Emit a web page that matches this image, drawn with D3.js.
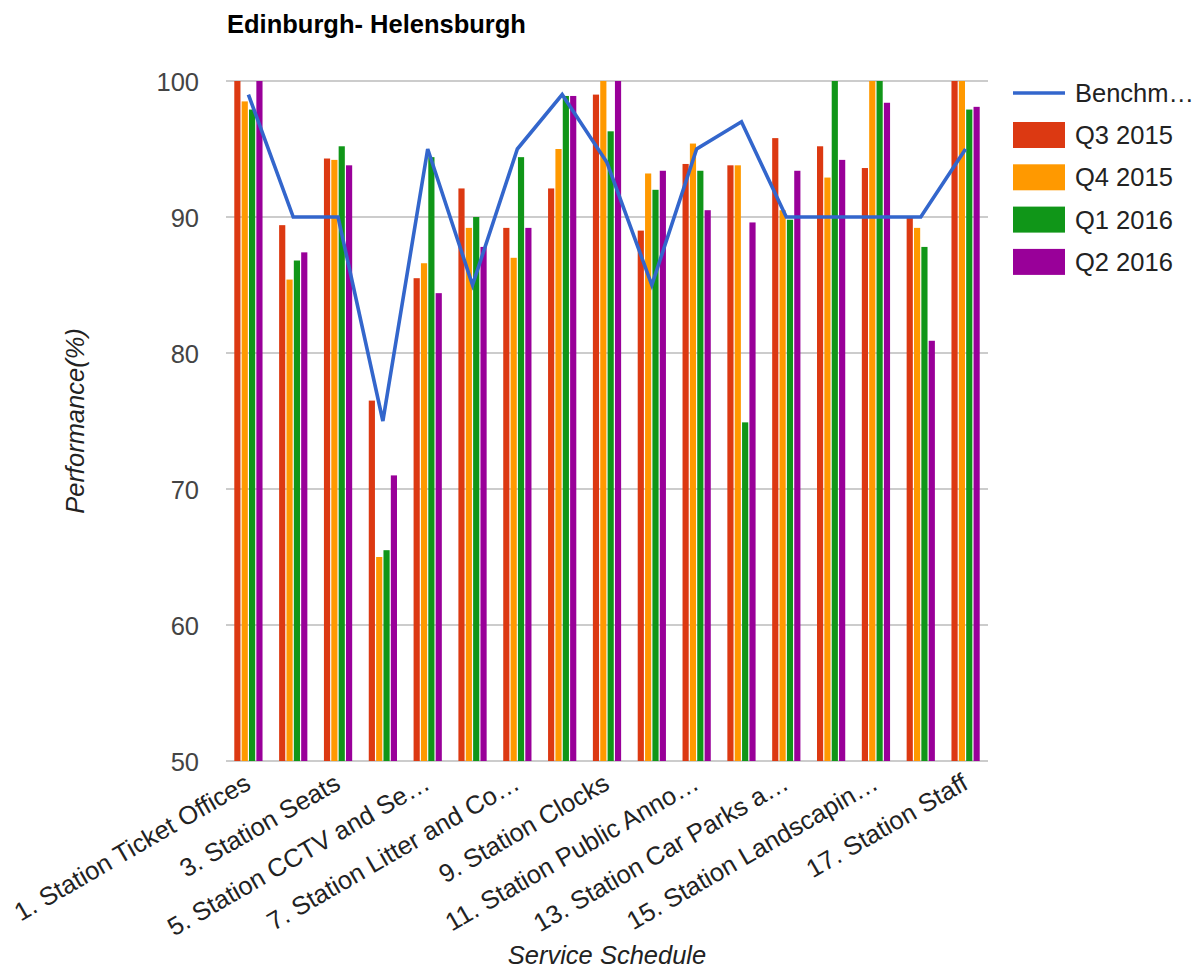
<!DOCTYPE html>
<html lang="en">
	<head>
		<meta charset="utf-8" />
		<title>Edinburgh- Helensburgh</title>
		<script type="text/javascript" src="https://cdn.jsdelivr.net/npm/d3@7"></script>
		<style type="text/css">
			body { margin: 0; background: #fff; }
			text { font-family: Arial, "Liberation Sans", sans-serif; }
		</style>
	</head>
	<body>
		<script type="text/javascript">
			//Categories (only the odd ones get a label on the axis)
			var categories = [
				"1. Station Ticket Offices", "2.", "3. Station Seats", "4.",
				"5. Station CCTV and Se…", "6.", "7. Station Litter and Co…", "8.",
				"9. Station Clocks", "10.", "11. Station Public Anno…", "12.",
				"13. Station Car Parks a…", "14.", "15. Station Landscapin…", "16.",
				"17. Station Staff"
			];
			var seriesNames = ["Q3 2015", "Q4 2015", "Q1 2016", "Q2 2016"];
			var lineName = "Benchmark";

			var benchmark = [99, 90, 90, 75, 95, 85, 95, 99, 94, 85, 95, 97, 90, 90, 90, 90, 95];
			var q3_2015 = [100, 89.4, 94.3, 76.5, 85.5, 92.1, 89.2, 92.1, 99.0, 89.0, 93.9, 93.8, 95.8, 95.2, 93.6, 90.0, 100];
			var q4_2015 = [98.5, 85.4, 94.2, 65.0, 86.6, 89.2, 87.0, 95.0, 100, 93.2, 95.4, 93.8, 90.5, 92.9, 100, 89.2, 100];
			var q1_2016 = [97.9, 86.8, 95.2, 65.5, 94.4, 90.0, 94.4, 98.9, 96.3, 92.0, 93.4, 74.9, 89.8, 100, 100, 87.8, 97.9];
			var q2_2016 = [100, 87.4, 93.8, 71.0, 84.4, 87.8, 89.2, 98.9, 100, 93.4, 90.5, 89.6, 93.4, 94.2, 98.4, 80.9, 98.1];
			var yTicks = [50, 60, 70, 80, 90, 100];

			var barSeries = [q3_2015, q4_2015, q1_2016, q2_2016];
			var colors = ["#dc3912", "#ff9900", "#109618", "#990099"];
			var lineColor = "#3366cc";

			var w = 1196;
			var h = 969;
			var fontSize = 25.5;
			//plot area (window.top is read-only, so no "top" here)
			var plotL = 226, plotR = 988, plotT = 81, plotB = 761;

			var svg = d3
				.select("body")
				.append("svg")
				.attr("width", w)
				.attr("height", h);

			var xScale = d3
				.scaleBand()
				.domain(d3.range(categories.length))
				.range([plotL, plotR])
				.padding(0);

			var groupW = xScale.bandwidth() * 0.63;
			var inner = d3
				.scaleBand()
				.domain(d3.range(barSeries.length))
				.range([0, groupW])
				.paddingInner(0.16);

			var yScale = d3
				.scaleLinear()
				.domain([50, 100])
				.range([plotB, plotT]);

			//Gridlines
			svg.append("g")
				.selectAll("line")
				.data(yTicks)
				.enter()
				.append("line")
				.attr("x1", plotL)
				.attr("x2", plotR)
				.attr("y1", function(d) { return yScale(d); })
				.attr("y2", function(d) { return yScale(d); })
				.attr("stroke", "#cccccc")
				.attr("stroke-width", 2);

			//Y axis labels
			var yAxis = d3
				.axisLeft()
				.scale(yScale)
				.tickValues(yTicks)
				.tickSize(0)
				.tickPadding(0);
			svg.append("g")
				.attr("class", "y axis")
				.attr("transform", "translate(199,0)")
				.call(yAxis)
				.call(function(g) { g.select(".domain").remove(); })
				.selectAll("text")
				.attr("font-size", fontSize)
				.attr("fill", "#444444")
				.attr("dy", "0.36em");

			//Bars
			var groups = svg.append("g")
				.selectAll("g")
				.data(barSeries)
				.enter()
				.append("g")
				.attr("fill", function(d, i) { return colors[i]; });

			groups.each(function(vals, s) {
				d3.select(this)
					.selectAll("rect")
					.data(vals)
					.enter()
					.append("rect")
					.attr("x", function(d, i) {
						return xScale(i) + (xScale.bandwidth() - groupW) / 2 + inner(s);
					})
					.attr("y", function(d) { return yScale(d); })
					.attr("width", inner.bandwidth())
					.attr("height", function(d) { return yScale(50) - yScale(d); });
			});

			//Benchmark line
			var line = d3
				.line()
				.x(function(d, i) { return xScale(i) + xScale.bandwidth() / 2; })
				.y(function(d) { return yScale(d); });
			svg.append("path")
				.datum(benchmark)
				.attr("d", line)
				.attr("fill", "none")
				.attr("stroke", lineColor)
				.attr("stroke-width", 3.6)
				.attr("stroke-linejoin", "miter");

			//X axis labels, rotated
			var xAxis = d3
				.axisBottom()
				.scale(xScale)
				.tickValues(d3.range(0, categories.length, 2))
				.tickFormat(function(d) { return categories[d]; })
				.tickSize(0)
				.tickPadding(0);
			svg.append("g")
				.attr("class", "x axis")
				.attr("transform", "translate(0," + plotB + ")")
				.call(xAxis)
				.call(function(g) { g.select(".domain").remove(); })
				.selectAll("text")
				.attr("font-size", fontSize)
				.attr("fill", "#222222")
				.attr("text-anchor", "end")
				.attr("y", 0)
				.attr("dy", 0)
				.attr("transform", "translate(4,27) rotate(-30)");

			//Title
			svg.append("text")
				.attr("x", 227)
				.attr("y", 33)
				.attr("font-size", fontSize)
				.attr("font-weight", "bold")
				.attr("fill", "#000")
				.text("Edinburgh- Helensburgh");

			//Axis titles
			svg.append("text")
				.attr("transform", "translate(84," + (plotT + plotB) / 2 + ") rotate(-90)")
				.attr("text-anchor", "middle")
				.attr("font-size", fontSize)
				.attr("font-style", "italic")
				.attr("fill", "#222222")
				.text("Performance(%)");
			svg.append("text")
				.attr("x", (plotL + plotR) / 2)
				.attr("y", 964)
				.attr("text-anchor", "middle")
				.attr("font-size", fontSize)
				.attr("font-style", "italic")
				.attr("fill", "#222222")
				.text("Service Schedule");

			//Legend
			var legend = svg.append("g").attr("transform", "translate(1013,0)");
			var lg = legend.append("g").attr("transform", "translate(0,93)");
			lg.append("line")
				.attr("x1", 0)
				.attr("x2", 52)
				.attr("stroke", lineColor)
				.attr("stroke-width", 3.6);
			var lt = lg.append("text")
				.attr("x", 62)
				.attr("dy", "0.36em")
				.attr("font-size", fontSize)
				.attr("fill", "#222222")
				.text(lineName);
			//Cut the name down like the original legend does
			var maxW = 122;
			if (lt.node().getComputedTextLength() > maxW) {
				var s = lineName;
				while (s.length > 1) {
					s = s.slice(0, -1);
					lt.text(s + "…");
					if (lt.node().getComputedTextLength() <= maxW) break;
				}
			}

			var items = legend.selectAll(".item")
				.data(seriesNames)
				.enter()
				.append("g")
				.attr("class", "item")
				.attr("transform", function(d, i) { return "translate(0," + (135 + i * 42.3) + ")"; });
			items.append("rect")
				.attr("x", 0)
				.attr("y", -13)
				.attr("width", 52)
				.attr("height", 26)
				.attr("fill", function(d, i) { return colors[i]; });
			items.append("text")
				.attr("x", 62)
				.attr("dy", "0.36em")
				.attr("font-size", fontSize)
				.attr("fill", "#222222")
				.text(function(d) { return d; });
		</script>
	</body>
</html>
